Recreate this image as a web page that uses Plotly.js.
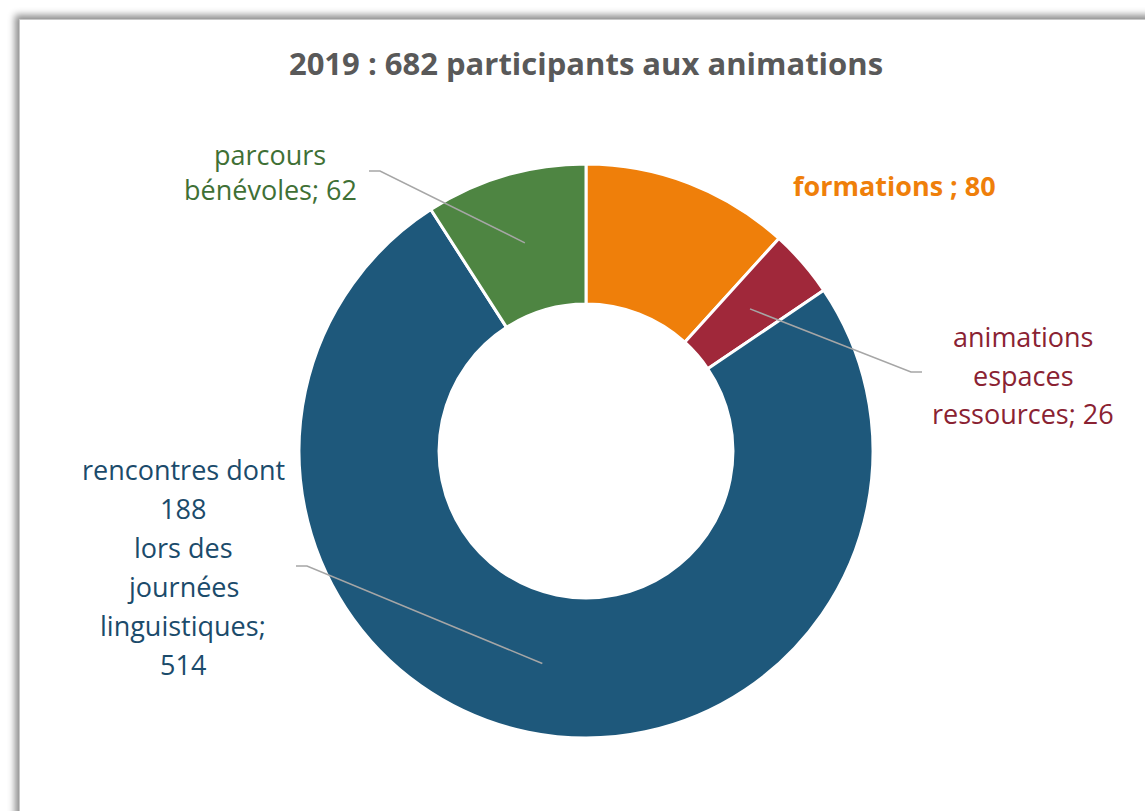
<!DOCTYPE html>
<html>
<head>
<meta charset="utf-8">
<script src="https://cdn.plot.ly/plotly-3.0.1.min.js"></script>
<style>
  html, body { margin: 0; padding: 0; background: #ffffff; overflow: hidden; }
  #frame {
    position: absolute; left: 19px; top: 19px; width: 1300px; height: 1000px;
    border: 1px solid #c8c8c8; background: #ffffff;
    box-shadow: -4px -4px 7px rgba(0,0,0,0.45);
  }
  #chart { position: absolute; left: 0; top: 0; width: 1145px; height: 811px; }
</style>
</head>
<body>
<div id="frame"></div>
<div id="chart"></div>
<script>
// ---- data ----
const categories = ['formations', 'animations espaces ressources', 'rencontres dont 188 lors des journées linguistiques', 'parcours bénévoles'];
const values = [80, 26, 514, 62];
const sliceColors = ['#EF7F0A', '#A0283A', '#1E587B', '#4E8542'];
const textColors = ['#EF7F0A', '#8A2232', '#1B4B6B', '#3F7035'];
const labelLines = [
  ['<b>formations ; 80</b>'],
  ['animations', 'espaces', 'ressources; 26'],
  ['rencontres dont', '188', 'lors des', 'journées', 'linguistiques;', '514'],
  ['parcours', 'bénévoles; 62']
];
const chartTitle = '<b>2019 : 682 participants aux animations</b>';

// ---- layout geometry (pixels) ----
const W = 1145, H = 811;
const cx = 586, cy = 451, rOut = 287, hole = 0.512;
const px = x => x / W;
const py = y => 1 - y / H;
const labelFont = '"Open Sans", sans-serif';

// label placement: center x, first line y, line spacing; leader anchor (null = no line)
const labelPos = [
  {x: 894, y: 185, dy: 39, anchor: null},
  {x: 1023, y: 336, dy: 39, anchor: [[922, 372], [911, 372]]},
  {x: 183, y: 469, dy: 39, anchor: [[296, 566], [307, 566]]},
  {x: 270, y: 154, dy: 35, anchor: [[369, 171], [380, 171]]}
];

const total = values.reduce((a, b) => a + b, 0);
const rMid = rOut * (1 + hole) / 2;
let cum = 0;
const annotations = [];
const shapes = [];
values.forEach((v, i) => {
  const mid = (cum + v / 2) / total;
  cum += v;
  const ang = mid * 2 * Math.PI;
  const ex = cx + rMid * Math.sin(ang);
  const ey = cy - rMid * Math.cos(ang);
  const lp = labelPos[i];
  labelLines[i].forEach((t, k) => {
    annotations.push({
      text: t, xref: 'paper', yref: 'paper',
      x: px(lp.x), y: py(lp.y + k * lp.dy),
      xanchor: 'center', yanchor: 'middle', showarrow: false,
      font: {family: labelFont, size: 27, color: textColors[i]}
    });
  });
  if (lp.anchor) {
    const pts = lp.anchor.concat([[ex, ey]]);
    const path = pts.map((p, k) => (k ? 'L' : 'M') + px(p[0]) + ',' + py(p[1])).join(' ');
    shapes.push({type: 'path', xref: 'paper', yref: 'paper', path: path,
      line: {color: '#a6a6a6', width: 1.5}});
  }
});

const trace = {
  type: 'pie',
  labels: categories,
  values: values,
  hole: hole,
  sort: false,
  direction: 'clockwise',
  rotation: 0,
  textinfo: 'none',
  hoverinfo: 'label+value',
  marker: {colors: sliceColors, line: {color: '#ffffff', width: 3}},
  domain: {x: [px(cx - rOut), px(cx + rOut)], y: [py(cy + rOut), py(cy - rOut)]},
  showlegend: false
};

const layout = {
  width: W, height: H,
  margin: {l: 0, r: 0, t: 0, b: 0},
  paper_bgcolor: 'rgba(0,0,0,0)',
  plot_bgcolor: 'rgba(0,0,0,0)',
  title: {text: chartTitle, x: px(586), y: py(64), xanchor: 'center', yanchor: 'middle',
    font: {family: labelFont, size: 31, color: '#595959'}},
  annotations: annotations,
  shapes: shapes,
  showlegend: false
};

Plotly.newPlot('chart', [trace], layout, {displayModeBar: false, staticPlot: true});
</script>
</body>
</html>
